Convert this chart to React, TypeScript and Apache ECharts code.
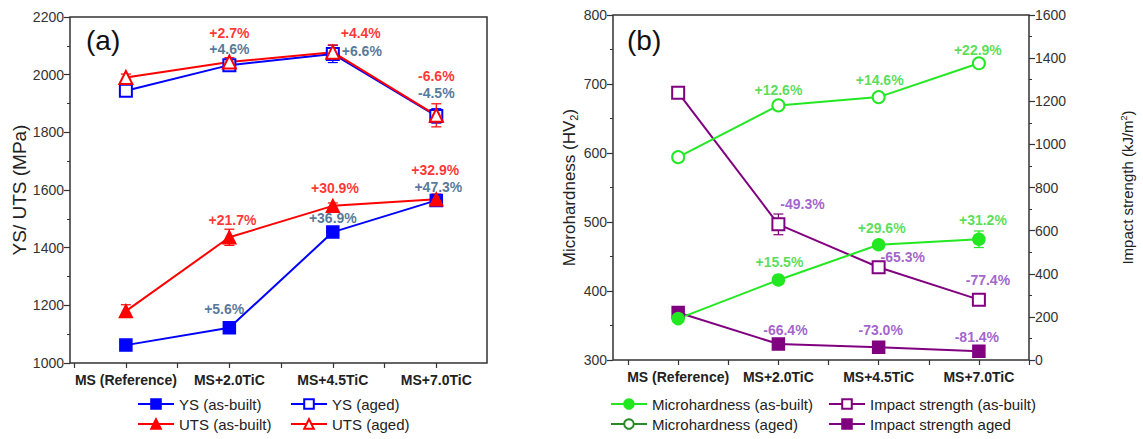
import React, { useEffect, useRef } from "react";
import * as echarts from "echarts";

const categories = ["MS (Reference)", "MS+2.0TiC", "MS+4.5TiC", "MS+7.0TiC"];
const catIdx = [0, 1, 2, 3];

// Panel (a)
const ysAsBuilt = [1062, 1122, 1454, 1564];
const utsAsBuilt = [1180, 1436, 1545, 1568];
const ysAged = [1944, 2033, 2072, 1857];
const utsAged = [1990, 2044, 2078, 1859];
const ysAsBuiltErr = [8, 10, 12, 12];
const utsAsBuiltErr = [22, 28, 10, 18];
const ysAgedErr = [10, 12, 30, 25];
const utsAgedErr = [12, 15, 25, 40];

// Panel (b)
const hardAsBuilt = [360, 416, 467, 475];
const hardAged = [594, 669, 681, 730];
const impactAsBuilt = [1240, 629, 430, 280];
const impactAged = [220, 74, 59, 41];
const hardAsBuiltErr = [4, 5, 5, 12];
const hardAgedErr = [4, 4, 4, 4];
const impactAsBuiltErr = [25, 48, 10, 10];
const impactAgedErr = [10, 5, 5, 5];

// annotations: [x, y, text]
const annARed: [number, number, string][] = [
  [1, 2144, "+2.7%"],
  [2.27, 2144, "+4.4%"],
  [3, 1995, "-6.6%"],
  [2.99, 1669, "+32.9%"],
  [2.02, 1607, "+30.9%"],
  [1.03, 1496, "+21.7%"],
];
const annABlue: [number, number, string][] = [
  [1, 2088, "+4.6%"],
  [2.28, 2081, "+6.6%"],
  [3, 1936, "-4.5%"],
  [3.02, 1610, "+47.3%"],
  [2, 1503, "+36.9%"],
  [0.95, 1187, "+5.6%"],
];
const annBGreen: [number, number, string][] = [
  [1, 691, "+12.6%"],
  [2.01, 706, "+14.6%"],
  [2.99, 749, "+22.9%"],
  [3.04, 503, "+31.2%"],
  [2.03, 491, "+29.6%"],
  [1.01, 442, "+15.5%"],
];
const annBPurple: [number, number, string][] = [
  [1.24, 526, "-49.3%"],
  [2.24, 449, "-65.3%"],
  [3.09, 416, "-77.4%"],
  [1.07, 343, "-66.4%"],
  [2.02, 343, "-73.0%"],
  [2.98, 333, "-81.4%"],
];

const FONT = "Liberation Sans, Arial, sans-serif";
const RED = "#ff0000";
const BLUE = "#0000ff";
const DBLUE = "#2b5580";
const GREEN = "#22e822";
const GTEXT = "#2fd62f";
const DGREEN = "#2a8a2a";
const PURPLE = "#800080";
const PTEXT = "#8a3cc0";
const AXC = "#333333";

function pts(vals: number[]) {
  return vals.map((v, i) => [catIdx[i], v]);
}

function errSeries(name: string, vals: number[], errs: number[], color: string, xi: number, yi: number) {
  return {
    type: "custom",
    name,
    xAxisIndex: xi,
    yAxisIndex: yi,
    z: 1,
    silent: true,
    data: vals.map((v, i) => [catIdx[i], v - errs[i], v + errs[i]]),
    renderItem: (params: any, api: any) => {
      const lo = api.coord([api.value(0), api.value(1)]);
      const hi = api.coord([api.value(0), api.value(2)]);
      const w = 5;
      const st = { stroke: color, lineWidth: 1.2 };
      return {
        type: "group",
        children: [
          { type: "line", shape: { x1: lo[0], y1: lo[1], x2: hi[0], y2: hi[1] }, style: st },
          { type: "line", shape: { x1: lo[0] - w, y1: lo[1], x2: lo[0] + w, y2: lo[1] }, style: st },
          { type: "line", shape: { x1: hi[0] - w, y1: hi[1], x2: hi[0] + w, y2: hi[1] }, style: st },
        ],
      };
    },
  };
}

function annSeries(items: [number, number, string][], color: string, xi: number, yi: number) {
  return {
    type: "scatter",
    xAxisIndex: xi,
    yAxisIndex: yi,
    symbolSize: 0,
    silent: true,
    z: 10,
    data: items.map((a) => ({ value: [a[0], a[1]], label: { formatter: a[2] } })),
    label: {
      show: true,
      position: "inside",
      color,
      fontFamily: FONT,
      fontWeight: "bold",
      fontSize: 14,
    },
  };
}

function lineSeries(name: string, vals: number[], color: string, symbol: string, xi: number, yi: number, size = 12) {
  return {
    type: "line",
    name,
    xAxisIndex: xi,
    yAxisIndex: yi,
    data: pts(vals),
    symbol,
    symbolSize: size,
    z: 3,
    lineStyle: { color, width: 2 },
    itemStyle: { color, borderColor: color, borderWidth: 1.5 },
  };
}

const xAxisBase = (gi: number, min: number, max: number) => ({
  type: "value",
  gridIndex: gi,
  min,
  max,
  splitLine: { show: false },
  axisLine: { show: false, onZero: false },
  axisTick: { customValues: [-0.5, 0, 0.5, 1, 1.5, 2, 2.5, 3, 3.5].filter((v) => v >= min && v <= max), length: 5, lineStyle: { color: AXC, width: 1.2 } },
  axisLabel: {
    customValues: catIdx,
    formatter: (v: number) => categories[Math.round(v)] ?? "",
    fontFamily: FONT,
    fontWeight: "bold",
    fontSize: 14,
    color: "#222",
    margin: 10,
  },
});

const yAxisBase = (gi: number, min: number, max: number, interval: number) => ({
  type: "value",
  gridIndex: gi,
  min,
  max,
  interval,
  splitLine: { show: false },
  axisLine: { show: false, onZero: false },
  axisTick: { show: true, length: 6, lineStyle: { color: AXC, width: 1.2 } },
  minorTick: { show: true, splitNumber: 2, length: 3, lineStyle: { color: AXC, width: 1 } },
  axisLabel: { fontFamily: FONT, fontSize: 14, color: "#333", margin: 6, formatter: (v: number) => String(v) },
  nameLocation: "middle",
});

export default function App() {
  const ref = useRef<HTMLDivElement>(null);
  useEffect(() => {
    if (!ref.current) return;
    const chart = echarts.init(ref.current, undefined, { renderer: "svg" });
    const legendText = { fontFamily: FONT, fontSize: 15, color: "#222", lineHeight: 16 };
    const lg = { orient: "vertical", padding: 0, itemWidth: 36, itemHeight: 12, itemGap: 4, textStyle: legendText, top: 396 };
    const option: any = {
      animation: false,
      backgroundColor: "#ffffff",
      textStyle: { fontFamily: FONT },
      grid: [
        { left: 70, top: 17, width: 417, height: 346, show: true, borderColor: AXC, borderWidth: 1.5 },
        { left: 613, top: 15, width: 416, height: 345, show: true, borderColor: AXC, borderWidth: 1.5 },
      ],
      xAxis: [xAxisBase(0, -0.54, 3.49), xAxisBase(1, -0.65, 3.5)],
      yAxis: [
        {
          ...yAxisBase(0, 1000, 2200, 200),
          name: "YS/ UTS (MPa)",
          nameGap: 40,
          nameTextStyle: { fontFamily: FONT, fontSize: 19, color: "#222" },
        },
        {
          ...yAxisBase(1, 300, 800, 100),
          name: "Microhardness (HV{sub|2})",
          nameGap: 34,
          nameTextStyle: {
            fontFamily: FONT,
            fontSize: 17,
            color: "#222",
            rich: { sub: { fontFamily: FONT, fontSize: 11, color: "#222", verticalAlign: "bottom", padding: [8, 0, 0, 0] } },
          },
        },
        {
          ...yAxisBase(1, 0, 1600, 200),
          position: "right",
          name: "Impact strength (kJ/m{sup|2})",
          nameGap: 90,
          nameTextStyle: {
            fontFamily: FONT,
            fontSize: 15,
            color: "#222",
            rich: { sup: { fontFamily: FONT, fontSize: 9, color: "#222", verticalAlign: "top", padding: [0, 0, 8, 0] } },
          },
        },
      ],
      legend: [
        { ...lg, left: 137, data: ["YS (as-built)", "UTS (as-built)"] },
        { ...lg, left: 290, data: ["YS (aged)", "UTS (aged)"] },
        {
          ...lg,
          left: 610,
          data: [
            "Microhardness (as-built)",
            { name: "Microhardness (aged)", lineStyle: { color: DGREEN, width: 2 }, itemStyle: { color: DGREEN, borderColor: DGREEN, borderWidth: 1.5 } },
          ],
        },
        { ...lg, left: 828, data: ["Impact strength (as-built)", "Impact strength aged"] },
      ],
      graphic: [
        { type: "text", left: 86, top: 26, style: { text: "(a)", fontFamily: FONT, fontSize: 28, fill: "#111" } },
        { type: "text", left: 627, top: 26, style: { text: "(b)", fontFamily: FONT, fontSize: 28, fill: "#111" } },
      ],
      series: [
        errSeries("err-ys-ab", ysAsBuilt, ysAsBuiltErr, BLUE, 0, 0),
        errSeries("err-uts-ab", utsAsBuilt, utsAsBuiltErr, RED, 0, 0),
        errSeries("err-ys-ag", ysAged, ysAgedErr, BLUE, 0, 0),
        errSeries("err-uts-ag", utsAged, utsAgedErr, RED, 0, 0),
        lineSeries("YS (as-built)", ysAsBuilt, BLUE, "rect", 0, 0),
        lineSeries("YS (aged)", ysAged, BLUE, "emptyRect", 0, 0),
        lineSeries("UTS (as-built)", utsAsBuilt, RED, "triangle", 0, 0, 13),
        lineSeries("UTS (aged)", utsAged, RED, "emptyTriangle", 0, 0, 13),
        annSeries(annARed, RED, 0, 0),
        annSeries(annABlue, DBLUE, 0, 0),

        errSeries("err-h-ab", hardAsBuilt, hardAsBuiltErr, GREEN, 1, 1),
        errSeries("err-h-ag", hardAged, hardAgedErr, GREEN, 1, 1),
        errSeries("err-i-ab", impactAsBuilt, impactAsBuiltErr, PURPLE, 1, 2),
        errSeries("err-i-ag", impactAged, impactAgedErr, PURPLE, 1, 2),
        lineSeries("Impact strength (as-built)", impactAsBuilt, PURPLE, "emptyRect", 1, 2),
        lineSeries("Impact strength aged", impactAged, PURPLE, "rect", 1, 2),
        lineSeries("Microhardness (as-built)", hardAsBuilt, GREEN, "circle", 1, 1),
        lineSeries("Microhardness (aged)", hardAged, GREEN, "emptyCircle", 1, 1),
        annSeries(annBGreen, GTEXT, 1, 1),
        annSeries(annBPurple, PTEXT, 1, 1),
      ],
    };
    chart.setOption(option);
    return () => chart.dispose();
  }, []);
  return <div ref={ref} style={{ position: "absolute", left: 0, top: 0, width: 1143, height: 439 }} />;
}
